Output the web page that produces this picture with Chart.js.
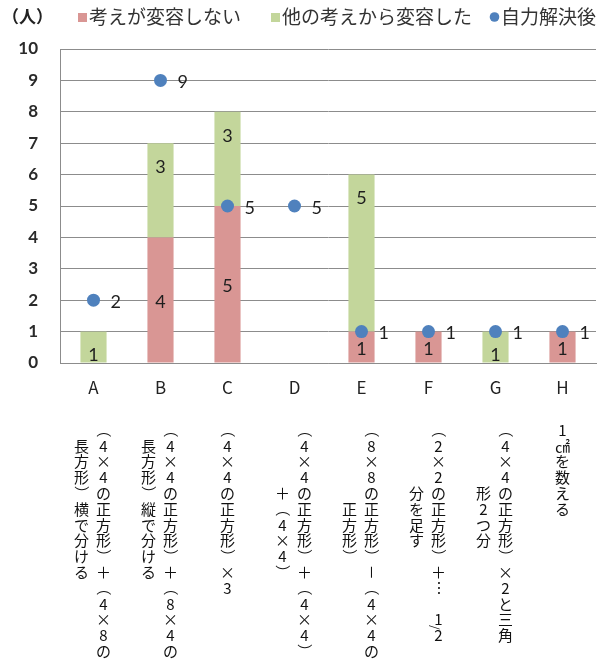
<!DOCTYPE html>
<html>
<head>
<meta charset="utf-8">
<script src="https://cdn.jsdelivr.net/npm/chart.js@4/dist/chart.umd.min.js"></script>
<style>
  html, body { margin: 0; padding: 0; background: #ffffff; }
  #wrap { width: 612px; height: 659px; }
</style>
</head>
<body>
<div id="wrap"><canvas id="chart" width="612" height="659"></canvas></div>
<script>
// ---- data ----
const categories = ['A', 'B', 'C', 'D', 'E', 'F', 'G', 'H'];

// strategy descriptions, one string per vertical column (right column first)
const descriptions = [
  ['（4×4の正方形）＋（4×8の', '　長方形）横で分ける'],
  ['（4×4の正方形）＋（8×4の', '　長方形）縦で分ける'],
  ['（4×4の正方形）×3'],
  ['（4×4の正方形）＋（4×4）', '　　　　＋（4×4）'],
  ['（8×8の正方形）－（4×4の', '　　　　　正方形）'],
  ['（2×2の正方形）＋…　1/2', '　　　　分を足す'],
  ['（4×4の正方形）×2と三角', '　　　　形2つ分'],
  ['1㎠を数える']
];

const seriesNames = ['考えが変容しない', '他の考えから変容した', '自力解決後'];
const unchanged = [0, 4, 5, 0, 1, 1, 0, 1];
const changedFromOthers = [1, 3, 3, 0, 5, 0, 1, 0];
const afterSelfSolving = [2, 9, 5, 5, 1, 1, 1, 1];

const yMin = 0;
const yMax = 10;
const yStep = 1;
const unitLabel = '（人）';

// ---- styles ----
const PINK = '#D99694';
const GREEN = '#C3D69B';
const BLUE = '#4F81BD';
const GRID = '#8c8c8c';
const JP = '"Noto Sans CJK JP", "Noto Sans", sans-serif';
const NUM = 'Lato, "Open Sans", sans-serif';

// legend + unit caption across the top
const topLegend = {
  id: 'topLegend',
  afterDraw(chart) {
    const ctx = chart.ctx;
    ctx.save();
    ctx.textBaseline = 'middle';
    ctx.fillStyle = '#222';
    ctx.font = 'bold 17px ' + JP;
    ctx.textAlign = 'left';
    ctx.fillText(unitLabel, 2, 17);

    const starts = [78, 271, 490];
    ctx.font = '19px ' + JP;
    chart.data.datasets.forEach((ds, i) => {
      const x = starts[i];
      ctx.fillStyle = ds.legendColor;
      if (ds.type === 'line') {
        ctx.beginPath();
        ctx.arc(x + 4.5, 17, 4.8, 0, Math.PI * 2);
        ctx.fill();
      } else {
        ctx.fillRect(x, 13, 9, 9);
      }
      ctx.fillStyle = '#333';
      ctx.fillText(ds.label, x + 11, 17);
    });
    ctx.restore();
  }
};

// value labels on bar segments and next to the points
const valueLabels = {
  id: 'valueLabels',
  afterDatasetsDraw(chart) {
    const ctx = chart.ctx;
    ctx.save();
    ctx.font = '18px ' + NUM;
    ctx.fillStyle = '#1e1e1e';
    ctx.textBaseline = 'middle';
    chart.data.datasets.forEach((ds, di) => {
      const meta = chart.getDatasetMeta(di);
      meta.data.forEach((el, i) => {
        const v = ds.data[i];
        if (!v) return;
        if (ds.type === 'line') {
          ctx.textAlign = 'left';
          ctx.fillText(String(v), el.x + 17, el.y + 2);
        } else if (ds.labelPlace === 'end') {
          ctx.textAlign = 'center';
          ctx.fillText(String(v), el.x, el.y + 24);
        } else {
          ctx.textAlign = 'center';
          ctx.fillText(String(v), el.x, (el.y + el.base) / 2 + 2);
        }
      });
    });
    ctx.restore();
  }
};

// vertical (tategaki) descriptions under each category letter
const rotatedInVertical = new Set(['（', '）', '－', 'ー', '…']);
const verticalLabels = {
  id: 'verticalLabels',
  afterDraw(chart) {
    const ctx = chart.ctx;
    const xs = chart.scales.x;
    const step = 15.8;
    const y0 = 430;
    const colGap = 22;
    ctx.save();
    ctx.fillStyle = '#111';
    ctx.textAlign = 'center';
    ctx.textBaseline = 'middle';
    descriptions.forEach((lines, i) => {
      const cx = xs.getPixelForValue(i);
      lines.forEach((line, j) => {
        const colX = lines.length === 1 ? cx : cx + 10 - j * colGap;
        let pos = 0;
        for (const ch of Array.from(line)) {
          if (ch === '　') { pos += 1; continue; }
          const y = y0 + pos * step;
          if (ch === '/') {
            // fraction bar between the stacked digits
            ctx.font = '11px ' + JP;
            ctx.save();
            ctx.translate(colX - 3, y - step / 2);
            ctx.rotate(Math.PI / 2);
            ctx.fillText('/', 0, 0);
            ctx.restore();
            continue;
          }
          ctx.font = '15px ' + JP;
          if (rotatedInVertical.has(ch)) {
            ctx.save();
            ctx.translate(colX, y);
            ctx.rotate(Math.PI / 2);
            ctx.fillText(ch, 0, 0);
            ctx.restore();
          } else {
            ctx.fillText(ch, colX, y);
          }
          pos += 1;
        }
      });
    });
    ctx.restore();
  }
};

new Chart(document.getElementById('chart'), {
  data: {
    labels: categories,
    datasets: [
      {
        type: 'bar', label: seriesNames[0], data: unchanged,
        backgroundColor: PINK, legendColor: PINK, stack: 'counts', order: 2,
        barPercentage: 0.39, categoryPercentage: 1.0, labelPlace: 'center'
      },
      {
        type: 'bar', label: seriesNames[1], data: changedFromOthers,
        backgroundColor: GREEN, legendColor: GREEN, stack: 'counts', order: 2,
        barPercentage: 0.39, categoryPercentage: 1.0, labelPlace: 'end'
      },
      {
        type: 'line', label: seriesNames[2], data: afterSelfSolving,
        showLine: false, stack: 'dots', order: 0,
        pointRadius: 6.5, pointBorderWidth: 0,
        pointBackgroundColor: BLUE, borderColor: BLUE, legendColor: BLUE
      }
    ]
  },
  options: {
    responsive: false,
    devicePixelRatio: 1,
    animation: false,
    events: [],
    layout: { padding: { top: 49, right: 16, bottom: 0, left: 0 } },
    plugins: { legend: { display: false }, tooltip: { enabled: false } },
    scales: {
      x: {
        stacked: true,
        grid: { display: false, drawTicks: false },
        border: { display: true, color: GRID, width: 1 },
        ticks: { color: '#222', padding: 14, font: { family: JP, size: 17 } },
        afterFit(scale) { scale.height = 296; }
      },
      y: {
        stacked: true,
        min: yMin, max: yMax,
        grid: { color: GRID, lineWidth: 1, drawTicks: false },
        border: { display: true, color: GRID, width: 1 },
        ticks: { stepSize: yStep, padding: 22, color: '#2a2a2a', font: { family: NUM, size: 17, weight: 'bold' } },
        afterFit(scale) { scale.width = 60; }
      }
    }
  },
  plugins: [topLegend, valueLabels, verticalLabels]
});
</script>
</body>
</html>
